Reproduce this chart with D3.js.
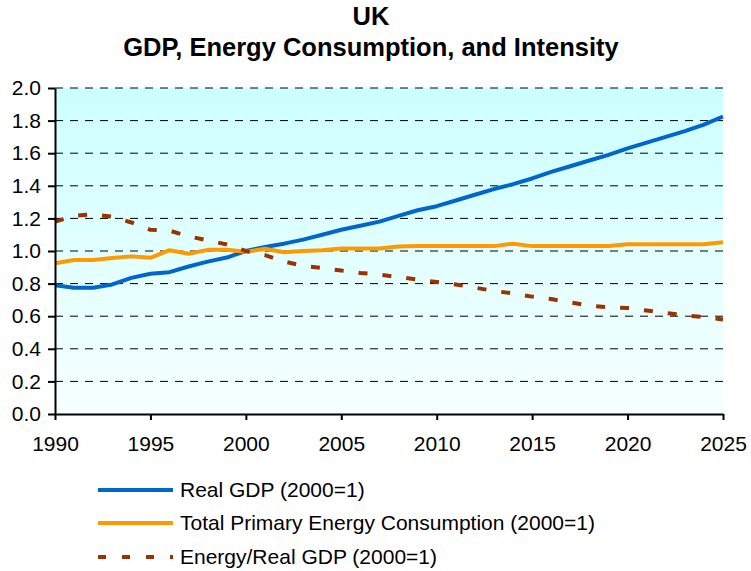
<!DOCTYPE html>
<html>
<head>
    <meta charset="utf-8">
    <title>UK GDP, Energy Consumption, and Intensity</title>
    <script type="text/javascript" src="https://cdn.jsdelivr.net/npm/d3@7/dist/d3.min.js"></script>
    <style type="text/css">
        body { margin: 0; background: #ffffff; }
        text { font-family: "Liberation Sans", Arial, sans-serif; fill: #000; }
    </style>
</head>
<body>
    <script type="text/javascript">
        var w = 751;
        var h = 571;

        // years on the x axis
        var years = [1990, 1991, 1992, 1993, 1994, 1995, 1996, 1997, 1998, 1999,
                     2000, 2001, 2002, 2003, 2004, 2005, 2006, 2007, 2008, 2009,
                     2010, 2011, 2012, 2013, 2014, 2015, 2016, 2017, 2018, 2019,
                     2020, 2021, 2022, 2023, 2024, 2025];

        // Real GDP (2000=1)
        var realGdp = [0.79, 0.775, 0.775, 0.795, 0.835, 0.86, 0.87, 0.905, 0.935, 0.96,
                       1.0, 1.025, 1.045, 1.07, 1.10, 1.13, 1.155, 1.18, 1.215, 1.25,
                       1.275, 1.31, 1.345, 1.38, 1.41, 1.445, 1.485, 1.52, 1.555, 1.59,
                       1.63, 1.665, 1.70, 1.735, 1.775, 1.825];

        // Total Primary Energy Consumption (2000=1)
        var energy = [0.925, 0.945, 0.945, 0.957, 0.967, 0.958, 1.005, 0.983, 1.007, 1.007,
                      0.995, 1.014, 0.992, 1.0, 1.005, 1.015, 1.015, 1.016, 1.028, 1.03,
                      1.03, 1.03, 1.03, 1.03, 1.045, 1.03, 1.03, 1.03, 1.03, 1.03,
                      1.042, 1.042, 1.042, 1.042, 1.042, 1.053];

        // Energy/Real GDP (2000=1)
        var intensity = [1.18, 1.215, 1.225, 1.21, 1.175, 1.13, 1.125, 1.09, 1.065, 1.04,
                         1.0, 0.975, 0.935, 0.91, 0.895, 0.88, 0.865, 0.855, 0.84, 0.825,
                         0.81, 0.795, 0.775, 0.755, 0.74, 0.72, 0.705, 0.685, 0.665, 0.655,
                         0.65, 0.635, 0.62, 0.605, 0.595, 0.58];

        var yTicks = [0, 0.2, 0.4, 0.6, 0.8, 1.0, 1.2, 1.4, 1.6, 1.8, 2.0];
        var xTicks = [1990, 1995, 2000, 2005, 2010, 2015, 2020, 2025];

        var seriesNames = ["Real GDP (2000=1)", "Total Primary Energy Consumption (2000=1)", "Energy/Real GDP (2000=1)"];
        var seriesColors = ["#0066cc", "#ff9900", "#993300"];
        var seriesDash = [null, null, "9,15"];
        var seriesValues = [realGdp, energy, intensity];

        // plot box (named so they don't clash with window.top)
        var plotLeft = 55, plotRight = 723, plotTop = 88, plotBottom = 414;

        var xScale = d3.scaleLinear().domain([1990, 2025]).range([plotLeft, plotRight]);
        var yScale = d3.scaleLinear().domain([0, 2]).range([plotBottom, plotTop]);

        var svg = d3.select("body")
                    .append("svg")
                    .attr("width", w)
                    .attr("height", h);

        // plot background gradient
        var grad = svg.append("defs").append("linearGradient")
            .attr("id", "bg").attr("x1", 0).attr("y1", 0).attr("x2", 0).attr("y2", 1);
        grad.append("stop").attr("offset", "0%").attr("stop-color", "#ccffff");
        grad.append("stop").attr("offset", "100%").attr("stop-color", "#f7ffff");

        svg.append("rect")
            .attr("x", plotLeft).attr("y", plotTop)
            .attr("width", plotRight - plotLeft).attr("height", plotBottom - plotTop)
            .attr("fill", "url(#bg)");

        // dashed gridlines
        svg.selectAll(".grid").data(yTicks.filter(d => d > 0)).enter().append("line")
            .attr("class", "grid")
            .attr("x1", plotLeft).attr("x2", plotRight)
            .attr("y1", d => yScale(d)).attr("y2", d => yScale(d))
            .attr("stroke", "#000").attr("stroke-width", 1)
            .attr("stroke-dasharray", "8,7");

        // title
        svg.append("text").attr("x", 371).attr("y", 25).attr("text-anchor", "middle")
            .style("font-size", "25.5px").style("font-weight", "bold").text("UK");
        svg.append("text").attr("x", 371).attr("y", 56).attr("text-anchor", "middle")
            .style("font-size", "25.5px").style("font-weight", "bold")
            .text("GDP, Energy Consumption, and Intensity");

        // lines
        var line = d3.line()
            .x(function(d, i) { return xScale(years[i]); })
            .y(function(d) { return yScale(d); });

        seriesValues.forEach(function(vals, k) {
            svg.append("path")
                .datum(vals)
                .attr("d", line)
                .attr("fill", "none")
                .attr("stroke", seriesColors[k])
                .attr("stroke-width", 4)
                .attr("stroke-linejoin", "round")
                .attr("stroke-dasharray", seriesDash[k]);
        });

        // axes
        var yAxis = d3.axisLeft(yScale).tickValues(yTicks).tickFormat(d3.format(".1f"))
            .tickSize(7).tickSizeOuter(0).tickPadding(7);
        var xAxis = d3.axisBottom(xScale).tickValues(xTicks).tickFormat(d3.format("d"))
            .tickSize(6).tickSizeOuter(0).tickPadding(16);

        var gy = svg.append("g").attr("transform", "translate(" + plotLeft + ",0)").call(yAxis);
        var gx = svg.append("g").attr("transform", "translate(0," + plotBottom + ")").call(xAxis);

        [gx, gy].forEach(function(g) {
            g.select(".domain").attr("stroke", "#000").attr("stroke-width", 2);
            g.selectAll(".tick line").attr("stroke", "#000").attr("stroke-width", 2);
            g.selectAll(".tick text").style("font-size", "21px")
                .style("font-family", "'Liberation Sans', Arial, sans-serif").attr("fill", "#000");
        });

        // legend
        var legendY = [490, 523, 557];
        seriesNames.forEach(function(name, k) {
            svg.append("line")
                .attr("x1", 98).attr("x2", 173)
                .attr("y1", legendY[k]).attr("y2", legendY[k])
                .attr("stroke", seriesColors[k]).attr("stroke-width", 4)
                .attr("stroke-dasharray", k == 2 ? "8,16" : null);
            svg.append("text")
                .attr("x", 180).attr("y", legendY[k] + 7)
                .style("font-size", "21px")
                .text(name);
        });
    </script>
</body>
</html>
